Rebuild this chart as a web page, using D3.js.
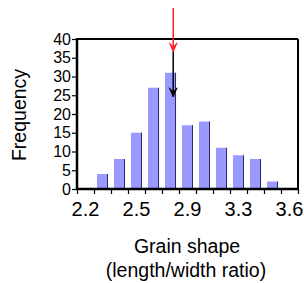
<!DOCTYPE html>
<html><head><meta charset="utf-8">
<script src="https://cdn.jsdelivr.net/npm/d3@7"></script>
<style>body{margin:0;background:#fff}svg{display:block}text{font-family:"Liberation Sans",Arial,sans-serif;fill:#000}</style>
</head><body>
<script>
const bins = ["2.2","2.3","2.4","2.5","2.6","2.8","2.9","3.0","3.2","3.3","3.4","3.5","3.6"];
const counts = [0,4,8,15,27,31,17,18,11,9,8,2,0];
const xTickLabels = ["2.2","2.5","2.9","3.3","3.6"];
const yTicks = [0,5,10,15,20,25,30,35,40];
const arrowPos = 5.66; // in bin units
const redArrow = [48.3, 36.6];
const blackArrow = [36.6, 24.6];

const W = 304, H = 283;
const L = 77, R = 298, T = 39, B = 189;
const svg = d3.select("body").append("svg").attr("width", W).attr("height", H);

const x = d3.scaleBand().domain(bins).range([L, R]).paddingInner(0.35).paddingOuter(0.175);
const xl = d3.scaleLinear().domain([0, bins.length]).range([L, R]);
const y = d3.scaleLinear().domain([0, 40]).range([B, T]);

// bars
const g = svg.append("g");
bins.forEach((b, i) => {
  if (!counts[i]) return;
  const x0 = x(b), w = x.bandwidth(), y0 = y(counts[i]);
  g.append("rect").attr("x", x0).attr("y", y0).attr("width", w).attr("height", B - y0).attr("fill", "#9999ff");
  g.append("line").attr("x1", x0 + w - 0.5).attr("x2", x0 + w - 0.5).attr("y1", y0).attr("y2", B)
    .attr("stroke", "#2a2a66").attr("stroke-width", 1);
});

// frame
svg.append("line").attr("x1", L).attr("x2", R).attr("y1", T).attr("y2", T).attr("stroke", "#000").attr("stroke-width", 2);
svg.append("line").attr("x1", R).attr("x2", R).attr("y1", T).attr("y2", B).attr("stroke", "#000").attr("stroke-width", 2);

// y axis
const ya = svg.append("g").attr("transform", `translate(${L},0)`)
  .call(d3.axisLeft(y).tickValues(yTicks).tickSize(5).tickPadding(1));
ya.select(".domain").attr("stroke-width", 2.5).attr("d", `M0,${T-1}V${B+1}`);
ya.selectAll(".tick line").attr("stroke-width", 1.2);
ya.selectAll(".tick text").attr("font-size", 16).attr("font-family", "Liberation Sans, Arial, sans-serif").attr("fill", "#000");

// x axis: ticks at bin boundaries
const boundaries = d3.range(bins.length + 1);
const xa = svg.append("g").attr("transform", `translate(0,${B})`)
  .call(d3.axisBottom(xl).tickValues(boundaries).tickSize(5).tickFormat(""));
xa.select(".domain").attr("stroke-width", 2.5).attr("d", `M${L-1},0H${R+1}`);
xa.selectAll(".tick line").attr("stroke-width", 1.2);

// x labels (centered on the labeled bins)
const labelled = bins.filter(b => xTickLabels.includes(b));
svg.append("g").selectAll("text").data(labelled).join("text")
  .attr("x", d => x(d) + x.bandwidth() / 2).attr("y", 216)
  .attr("text-anchor", "middle").attr("font-size", 20).text(d => d);

// axis titles
svg.append("text").attr("transform", "translate(26,115) rotate(-90)")
  .attr("text-anchor", "middle").attr("font-size", 19.5).text("Frequency");
svg.append("text").attr("x", 187).attr("y", 253).attr("text-anchor", "middle").attr("font-size", 19.5).text("Grain shape");
svg.append("text").attr("x", 186).attr("y", 277).attr("text-anchor", "middle").attr("font-size", 19.5).text("(length/width ratio)");

// arrows
function arrow(vals, color) {
  const ax = xl(arrowPos), y1 = y(vals[0]), y2 = y(vals[1]);
  svg.append("line").attr("x1", ax).attr("x2", ax).attr("y1", y1).attr("y2", y2).attr("stroke", color).attr("stroke-width", 1.5);
  svg.append("path").attr("d", `M${ax-4},${y2-9}L${ax},${y2}L${ax+4},${y2-9}L${ax},${y2-5}Z`)
    .attr("fill", color).attr("stroke", color).attr("stroke-width", 0.8);
}
arrow(redArrow, "#ff2020");
arrow(blackArrow, "#000");
</script>
</body></html>
